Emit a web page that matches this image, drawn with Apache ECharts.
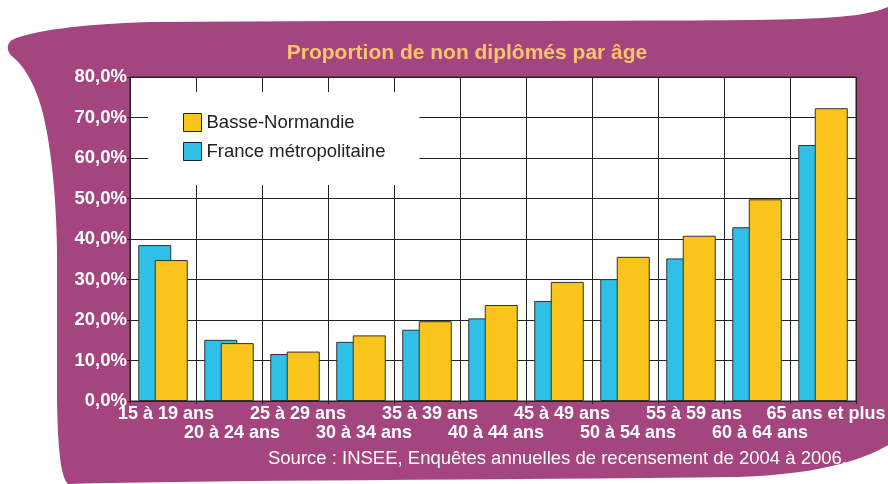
<!DOCTYPE html>
<html>
<head>
<meta charset="utf-8">
<script src="https://cdn.jsdelivr.net/npm/echarts@6/dist/echarts.min.js"></script>
<style>html,body{margin:0;padding:0;background:#fff;}#c{width:888px;height:484px;}</style>
</head>
<body>
<div id="c"></div>
<script>
const categories = ['15 à 19 ans','20 à 24 ans','25 à 29 ans','30 à 34 ans','35 à 39 ans','40 à 44 ans','45 à 49 ans','50 à 54 ans','55 à 59 ans','60 à 64 ans','65 ans et plus'];
const franceValues = [38.5, 15.1, 11.6, 14.6, 17.6, 20.4, 24.7, 30.1, 35.2, 42.9, 63.2];
const basseNormandieValues = [34.8, 14.3, 12.2, 16.2, 19.7, 23.7, 29.4, 35.6, 40.8, 49.8, 72.3];
const yTicks = [0, 10, 20, 30, 40, 50, 60, 70, 80];
const titleText = 'Proportion de non diplômés par âge';
const sourceText = 'Source : INSEE, Enquêtes annuelles de recensement de 2004 à 2006.';

const FONT = 'Liberation Sans, Arial, Helvetica, sans-serif';

// decorative background outline (cubic segments), flattened into a polygon
function flatten(start, segs) {
  const pts = [start];
  let p0 = start;
  segs.forEach(function (s) {
    if (s.length === 1) { pts.push(s[0]); p0 = s[0]; return; }
    const [c1, c2, p3] = s;
    for (let k = 1; k <= 16; k++) {
      const t = k / 16, u = 1 - t;
      pts.push([
        u*u*u*p0[0] + 3*u*u*t*c1[0] + 3*u*t*t*c2[0] + t*t*t*p3[0],
        u*u*u*p0[1] + 3*u*u*t*c1[1] + 3*u*t*t*c2[1] + t*t*t*p3[1]
      ]);
    }
    p0 = p3;
  });
  return pts;
}
const bgShape = flatten([12, 40], [
  [[30, 31], [80, 24], [150, 22]],
  [[400, 20], [700, 22], [800, 19]],
  [[850, 17], [875, 14], [892, 5]],
  [[892, 443]],
  [[870, 456], [830, 474], [738, 477]],
  [[500, 480], [200, 480], [68, 484]],
  [[62, 478], [58, 460], [57, 400]],
  [[57, 250]],
  [[56, 190], [50, 140], [42, 110]],
  [[36, 88], [26, 68], [14, 58]],
  [[6, 52], [6, 44], [12, 40]]
]);

const chart = echarts.init(document.getElementById('c'), null, {renderer: 'canvas'});
chart.setOption({
  animation: false,
  backgroundColor: '#ffffff',
  graphic: [
    {
      type: 'polygon', z: -100, silent: true,
      shape: {points: bgShape},
      style: {fill: '#a4457f'}
    },
    {
      type: 'text', z: 10, x: 467, y: 53,
      style: {text: titleText, fill: '#fac56d', font: 'bold 21px ' + FONT, textAlign: 'center', textVerticalAlign: 'middle'}
    },
    {
      type: 'text', z: 10, x: 847, y: 459,
      style: {text: sourceText, fill: '#ffffff', font: '18.5px ' + FONT, textAlign: 'right', textVerticalAlign: 'middle'}
    }
  ],
  grid: {
    left: 130, top: 77, right: 32, bottom: 83,
    containLabel: false, outerBoundsMode: 'none',
    show: true, backgroundColor: '#ffffff', borderColor: '#222', borderWidth: 1
  },
  legend: {
    orient: 'vertical',
    left: 148, top: 92,
    padding: [21, 34, 24, 35],
    backgroundColor: '#ffffff',
    itemWidth: 18, itemHeight: 18, itemGap: 10,
    icon: 'rect',
    data: ['Basse-Normandie', 'France métropolitaine'],
    itemStyle: {borderColor: '#222', borderWidth: 1},
    textStyle: {color: '#222', fontSize: 18.5, fontFamily: FONT, lineHeight: 18}
  },
  xAxis: {
    type: 'category',
    data: categories,
    boundaryGap: true,
    axisLine: {show: true, lineStyle: {color: '#222', width: 1}},
    axisTick: {show: true, length: 3, interval: 0, lineStyle: {color: '#222'}},
    splitLine: {show: true, interval: 0, lineStyle: {color: '#222', width: 1}},
    axisLabel: {
      interval: 0, margin: 3, color: '#ffffff', fontWeight: 'bold', fontSize: 18, fontFamily: FONT, lineHeight: 19.5,
      padding: [0, 0, 0, 6],
      formatter: function (v, i) { return i % 2 === 1 ? '\n' + v : v; }
    }
  },
  yAxis: {
    type: 'value',
    min: yTicks[0], max: yTicks[yTicks.length - 1], interval: 10,
    axisLine: {show: true, lineStyle: {color: '#222', width: 1}},
    axisTick: {show: true, length: 3, lineStyle: {color: '#222'}},
    splitLine: {show: true, lineStyle: {color: '#222', width: 1}},
    axisLabel: {
      margin: 3, color: '#ffffff', fontWeight: 'bold', fontSize: 18.5, fontFamily: FONT,
      formatter: function (v) { return v.toFixed(1).replace('.', ',') + '%'; }
    }
  },
  series: [
    {
      name: 'France métropolitaine', type: 'bar', data: franceValues,
      barWidth: 33, barGap: '-50%',
      itemStyle: {color: '#2ec0e7', borderColor: '#333', borderWidth: 1}
    },
    {
      name: 'Basse-Normandie', type: 'bar', data: basseNormandieValues,
      barWidth: 33, barGap: '-50%',
      itemStyle: {color: '#f9c41c', borderColor: '#333', borderWidth: 1}
    }
  ]
});
</script>
</body>
</html>
